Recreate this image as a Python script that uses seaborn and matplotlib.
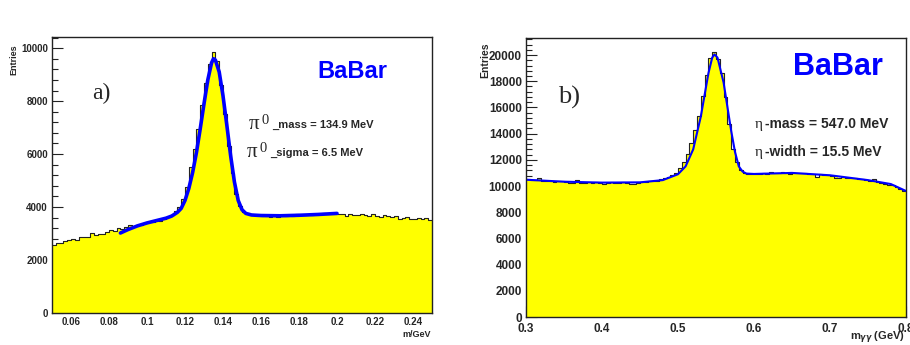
import numpy as np
import pandas as pd
import matplotlib
matplotlib.use("Agg")
import matplotlib.pyplot as plt
from matplotlib.ticker import MultipleLocator
import seaborn as sns

# ---- panel a) pi0 -> gamma gamma, 2 MeV bins from 0.05 to 0.25 GeV
pi0_lo, pi0_hi, pi0_bw = 0.05, 0.25, 0.002
pi0_counts = [
    2560, 2640, 2660, 2700, 2760, 2790, 2740, 2860, 2880, 2870,
    3020, 2960, 2990, 2980, 3050, 3140, 3110, 3210, 3170, 3250,
    3310, 3300, 3340, 3330, 3390, 3430, 3450, 3520, 3490, 3560,
    3610, 3690, 3850, 4000, 4300, 4750, 5500, 6200, 6950, 7850,
    8700, 9400, 9850, 9500, 8600, 7500, 6300, 5300, 4500, 4050,
    3820, 3760, 3730, 3690, 3700, 3650, 3680, 3620, 3660, 3640,
    3690, 3650, 3700, 3680, 3720, 3690, 3710, 3730, 3700, 3740,
    3720, 3760, 3730, 3770, 3790, 3740, 3720, 3680, 3730, 3700,
    3690, 3720, 3700, 3670, 3720, 3680, 3630, 3700, 3660, 3620,
    3650, 3560, 3580, 3640, 3560, 3530, 3590, 3550, 3580, 3520,
]
pi0_fit_x = [0.086, 0.090, 0.095, 0.100, 0.105, 0.110, 0.113, 0.116, 0.118,
             0.120, 0.122, 0.124, 0.126, 0.128, 0.130, 0.132, 0.134, 0.135,
             0.136, 0.138, 0.140, 0.142, 0.144, 0.146, 0.148, 0.150, 0.152,
             0.155, 0.160, 0.170, 0.180, 0.190, 0.200]
pi0_fit_y = [3020, 3150, 3290, 3400, 3490, 3580, 3660, 3800, 3950,
             4250, 4700, 5300, 6050, 6950, 7900, 8800, 9450, 9600,
             9550, 9100, 8200, 7100, 5950, 4950, 4250, 3900, 3760,
             3700, 3680, 3670, 3690, 3720, 3760]

# ---- panel b) eta -> gamma gamma, 5 MeV bins from 0.3 to 0.8 GeV
eta_lo, eta_hi, eta_bw = 0.3, 0.8, 0.005
eta_counts = [
    10520, 10480, 10450, 10600, 10420, 10380, 10350, 10330, 10380, 10360,
    10300, 10250, 10220, 10480, 10230, 10200, 10290, 10260, 10300, 10220,
    10150, 10230, 10280, 10250, 10260, 10290, 10240, 10180, 10120, 10260,
    10300, 10320, 10350, 10390, 10420, 10500, 10580, 10700, 10850, 11000,
    11350, 11850, 12450, 13300, 14300, 15350, 16900, 18500, 19800, 20200,
    19700, 18600, 16800, 14700, 12800, 11800, 11250, 11000, 10900, 10950,
    10900, 10950, 10980, 10950, 11050, 11000, 11020, 11050, 10980, 10950,
    11000, 10970, 10990, 10960, 10900, 10950, 10700, 10880, 10850, 10820,
    10800, 10650, 10600, 10700, 10650, 10600, 10580, 10550, 10500, 10450,
    10400, 10520, 10300, 10250, 10180, 10100, 10050, 9900, 9800, 9600,
]
eta_fit_x = [0.300, 0.350, 0.400, 0.450, 0.480, 0.500, 0.510, 0.520, 0.530,
             0.540, 0.545, 0.548, 0.552, 0.560, 0.570, 0.575, 0.580, 0.585,
             0.590, 0.600, 0.650, 0.700, 0.750, 0.780, 0.800]
eta_fit_y = [10480, 10330, 10260, 10280, 10450, 10900, 11500, 12800, 15300,
             18600, 19800, 20050, 19800, 17900, 14200, 12600, 11500, 11100,
             10950, 10920, 11000, 10820, 10450, 10150, 9620]

W, H = 910, 345
sns.set_style("ticks")
plt.rcParams["font.family"] = ["Liberation Sans", "DejaVu Sans"]
plt.rcParams["font.weight"] = "bold"

fig = plt.figure(figsize=(W / 100, H / 100), dpi=100)
ax1 = fig.add_axes([52 / W, 1 - 313 / H, 380 / W, 276 / H])
ax2 = fig.add_axes([526 / W, 1 - 317 / H, 380 / W, 279 / H])


def draw_hist(ax, lo, hi, bw, counts, fx, fy, fit_lw):
    centers = lo + bw * (np.arange(len(counts)) + 0.5)
    df = pd.DataFrame({"m": centers, "n": counts})
    sns.histplot(data=df, x="m", weights="n", binwidth=bw, binrange=(lo, hi),
                 element="step", fill=True, color="#ffff00", alpha=1,
                 linewidth=0, ax=ax)
    sns.histplot(data=df, x="m", weights="n", binwidth=bw, binrange=(lo, hi),
                 element="step", fill=False, color="#222222", linewidth=0.8,
                 ax=ax)
    sns.lineplot(x=fx, y=fy, color="#0000ff", linewidth=fit_lw, ax=ax)
    ax.set_xlim(lo, hi)
    ax.set_xlabel("")
    ax.set_ylabel("")
    for s in ax.spines.values():
        s.set_visible(True)
        s.set_color("#222222")
        s.set_linewidth(1.0)
    ax.tick_params(which="both", direction="in", top=False, right=False,
                   color="#222222", width=0.8)
    ax.tick_params(which="major", length=8, pad=3)
    ax.tick_params(which="minor", length=4)


# panel a
draw_hist(ax1, pi0_lo, pi0_hi, pi0_bw, pi0_counts, pi0_fit_x, pi0_fit_y, 2.6)
ax1.set_ylim(0, 10420)
ax1.xaxis.set_minor_locator(MultipleLocator(0.004))
ax1.yaxis.set_major_locator(MultipleLocator(2000))
ax1.yaxis.set_minor_locator(MultipleLocator(400))
ax1.set_xticks([0.06, 0.08, 0.10, 0.12, 0.14, 0.16, 0.18, 0.20, 0.22, 0.24])
ax1.set_xticklabels(["0.06", "0.08", "0.1", "0.12", "0.14", "0.16", "0.18",
                     "0.2", "0.22", "0.24"])
ax1.tick_params(labelsize=7)

# panel b
draw_hist(ax2, eta_lo, eta_hi, eta_bw, eta_counts, eta_fit_x, eta_fit_y, 1.5)
ax2.set_ylim(0, 21300)
ax2.xaxis.set_minor_locator(MultipleLocator(0.02))
ax2.yaxis.set_major_locator(MultipleLocator(2000))
ax2.yaxis.set_minor_locator(MultipleLocator(400))
ax2.set_xticks([0.3, 0.4, 0.5, 0.6, 0.7, 0.8])
ax2.set_xticklabels(["0.3", "0.4", "0.5", "0.6", "0.7", "0.8"])
ax2.tick_params(labelsize=8.5)
ax2.tick_params(axis="x", pad=4)


def ftext(x, y, s, **kw):
    fig.text(x / W, 1 - y / H, s, va="baseline", **kw)


serif = ["Liberation Serif", "DejaVu Serif"]

# axis titles
fig.text(14 / W, 1 - 60 / H, "Entries", rotation=90, ha="center", va="center",
         fontsize=6.5, fontweight="bold")
fig.text(485 / W, 1 - 60 / H, "Entries", rotation=90, ha="center", va="center",
         fontsize=7.5, fontweight="bold")
ftext(431, 337, "m/GeV", ha="right", fontsize=6.5, fontweight="bold")
ftext(905, 340, r"m$_{\gamma\gamma}$ (GeV)", ha="right", fontsize=8,
      fontweight="bold")

# panel a annotations
ftext(317, 78, "BaBar", color="#0000ff", fontsize=17, fontweight="bold")
ftext(92, 99, "a)", family=serif, fontsize=17, fontweight="normal")
ftext(249, 129, "π", family=serif, fontsize=15, fontweight="normal")
ftext(262, 124, "0", family=serif, fontsize=10.5, fontweight="normal")
ftext(272, 128, "_mass = 134.9 MeV", fontsize=8, fontweight="bold")
ftext(247, 157, "π", family=serif, fontsize=15, fontweight="normal")
ftext(260, 152, "0", family=serif, fontsize=10.5, fontweight="normal")
ftext(270, 156, "_sigma = 6.5 MeV", fontsize=8, fontweight="bold")

# panel b annotations
ftext(793, 75, "BaBar", color="#0000ff", fontsize=22, fontweight="bold")
ftext(558, 104, "b)", family=serif, fontsize=19, fontweight="normal")
ftext(755, 128, "η", family=serif, fontsize=11, fontweight="normal")
ftext(765, 128, "-mass = 547.0 MeV", fontsize=10, fontweight="bold")
ftext(755, 156, "η", family=serif, fontsize=11, fontweight="normal")
ftext(765, 156, "-width = 15.5 MeV", fontsize=10, fontweight="bold")

fig.savefig("out.png", dpi=100)
